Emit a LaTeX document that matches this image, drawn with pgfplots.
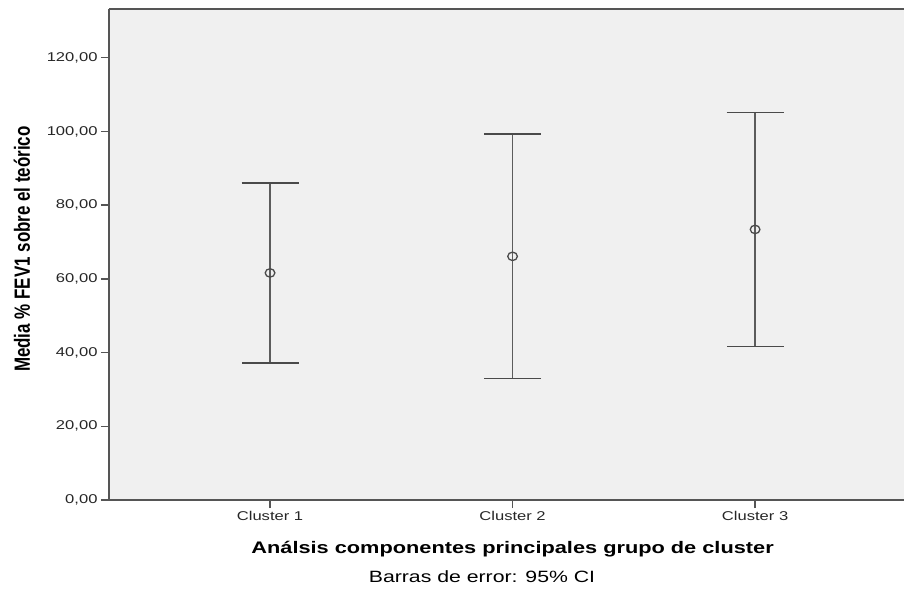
\documentclass[border=0pt]{standalone}
\usepackage{fontspec}
\setmainfont[FakeStretch=1.3]{Liberation Sans}
\newfontfamily\ylabfont{Liberation Sans}
\usepackage{graphicx}
\usepackage{pgfplots}
\pgfplotsset{compat=1.18}
\definecolor{bgc}{HTML}{F0F0F0}
\definecolor{axc}{HTML}{555555}
\definecolor{barc}{HTML}{4A4A4A}
\begin{document}
\begin{tikzpicture}
\begin{axis}[
  scale only axis,
  width=795bp, height=491bp,
  xmin=0.336, xmax=3.614,
  ymin=0, ymax=133.2,
  axis lines=left,
  axis line style={-, color=axc, line width=1.5bp},
  axis background/.style={fill=bgc},
  xtick={1,2,3},
  xticklabels={Cluster 1,Cluster 2,Cluster 3},
  ytick={0,20,...,120},
  tick align=outside,
  major tick length=8bp,
  tick style={color=axc, line width=1.5bp},
  /pgf/number format/.cd, fixed, fixed zerofill, precision=2, use comma, assume math mode=true,
  /pgfplots/.cd,
  ticklabel style={font=\fontsize{12.8}{14}\selectfont, text=black!85},
  clip=false,
]
\addplot[
  only marks, mark=o, mark size=4.2bp,
  mark options={draw=barc, line width=1.3bp, xscale=1.15},
  error bars/.cd, y dir=both, y explicit,
  error mark=-,
  error mark options={rotate=90, mark size=28.5bp, line width=1.5bp, draw=barc},
  error bar style={line width=1.5bp, draw=barc!90},
] coordinates {
  (1,61.6) +- (0,24.4)
  (2,66.1) +- (0,33.2)
  (3,73.4) +- (0,31.75)
};
\draw[axc, line width=1.5bp] (rel axis cs:0,1) -- (rel axis cs:1,1);
\coordinate (sw) at (rel axis cs:0,0);
\coordinate (ne) at (rel axis cs:1,1);
\node[font=\bfseries\fontsize{16.8}{18}\selectfont] at ([yshift=-49bp]axis cs:2,0) {Análsis componentes principales grupo de cluster};
\node[font=\fontsize{16.4}{18}\selectfont] at ([xshift=373bp,yshift=-77bp]rel axis cs:0,0) {Barras de error: 95\% CI};
\node[rotate=90, font=\ylabfont\bfseries\fontsize{17}{19}\selectfont] at ([xshift=-87bp]rel axis cs:0,0.511) {\scalebox{1}[1.3]{Media \% FEV1 sobre el teórico}};
\end{axis}
\pgfresetboundingbox
\path[use as bounding box] ([shift={(-109bp,-89bp)}]sw) rectangle ([shift={(0bp,9bp)}]ne);
\end{tikzpicture}
\end{document}
